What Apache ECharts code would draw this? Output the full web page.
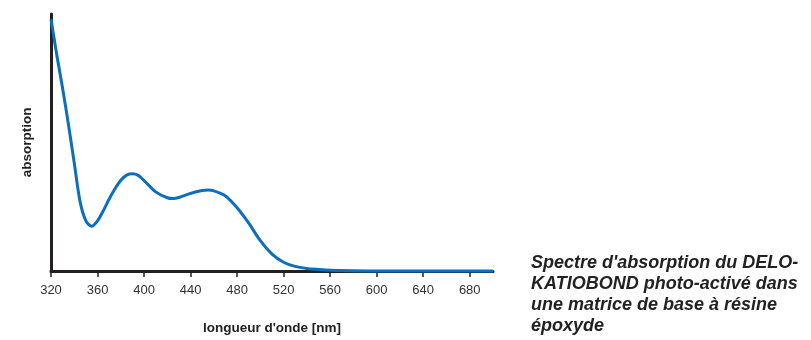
<!DOCTYPE html>
<html>
<head>
<meta charset="utf-8">
<script src="https://cdn.jsdelivr.net/npm/echarts@6/dist/echarts.min.js"></script>
<style>
html,body{margin:0;padding:0;background:#fff;}
#chart{width:811px;height:340px;}
</style>
</head>
<body>
<div id="chart"></div>
<script>
var wavelengths = [320,325,330,335,340,345,350,355,360,365,370,375,380,385,390,395,400,410,420,425,430,440,450,455,460,470,480,490,500,510,520,530,540,550,560,580,600,650,700];
var absorption  = [98,84,71,57,42,27,19.5,17.4,19.5,23.5,28,32,35.3,37.3,37.8,37.2,35.2,30.8,28.5,28.2,28.6,30.2,31.3,31.5,31.2,29.2,24.6,18.6,11.8,6.6,3.4,1.8,1.0,0.6,0.3,0.1,0,0,0];
var xTicks = [320,360,400,440,480,520,560,600,640,680];
var caption = "Spectre d'absorption du DELO-\nKATIOBOND photo-activé dans\nune matrice de base à résine\népoxyde";
var xName = "longueur d'onde [nm]";
var yName = "absorption";

var points = wavelengths.map(function(w,i){return [w, absorption[i]];});
var chart = echarts.init(document.getElementById('chart'), null, {renderer:'canvas'});
var font = "'Liberation Sans', Arial, Helvetica, sans-serif";
chart.setOption({
  animation:false,
  title:{
    text: caption,
    left: 526, top: 248,
    textStyle:{fontFamily:font,fontSize:18,fontWeight:'bold',fontStyle:'italic',color:'#222',lineHeight:21}
  },
  grid:{left:51,right:318,top:14,bottom:64.5,containLabel:false},
  xAxis:{
    type:'value',min:xTicks[0],max:700,interval:40,
    name:xName,nameLocation:'middle',nameGap:50,
    nameTextStyle:{fontFamily:font,fontSize:13.5,fontWeight:'bold',color:'#222'},
    axisLine:{show:true,onZero:false,lineStyle:{color:'#231f20',width:3}},
    axisTick:{show:true,length:6,inside:false,lineStyle:{color:'#231f20',width:1.5}},
    axisLabel:{fontFamily:font,fontSize:13,color:'#333',margin:13,showMaxLabel:false},
    splitLine:{show:false}
  },
  yAxis:{
    type:'value',min:0,max:100,
    name:yName,nameLocation:'middle',nameGap:17,
    nameTextStyle:{fontFamily:font,fontSize:13.5,fontWeight:'bold',color:'#222'},
    axisLine:{show:true,lineStyle:{color:'#231f20',width:3}},
    axisTick:{show:false},axisLabel:{show:false},splitLine:{show:false}
  },
  series:[{
    type:'line',data:points,showSymbol:false,smooth:0.3,
    lineStyle:{color:'#0b6fbd',width:3},clip:false
  }]
});
</script>
</body>
</html>
